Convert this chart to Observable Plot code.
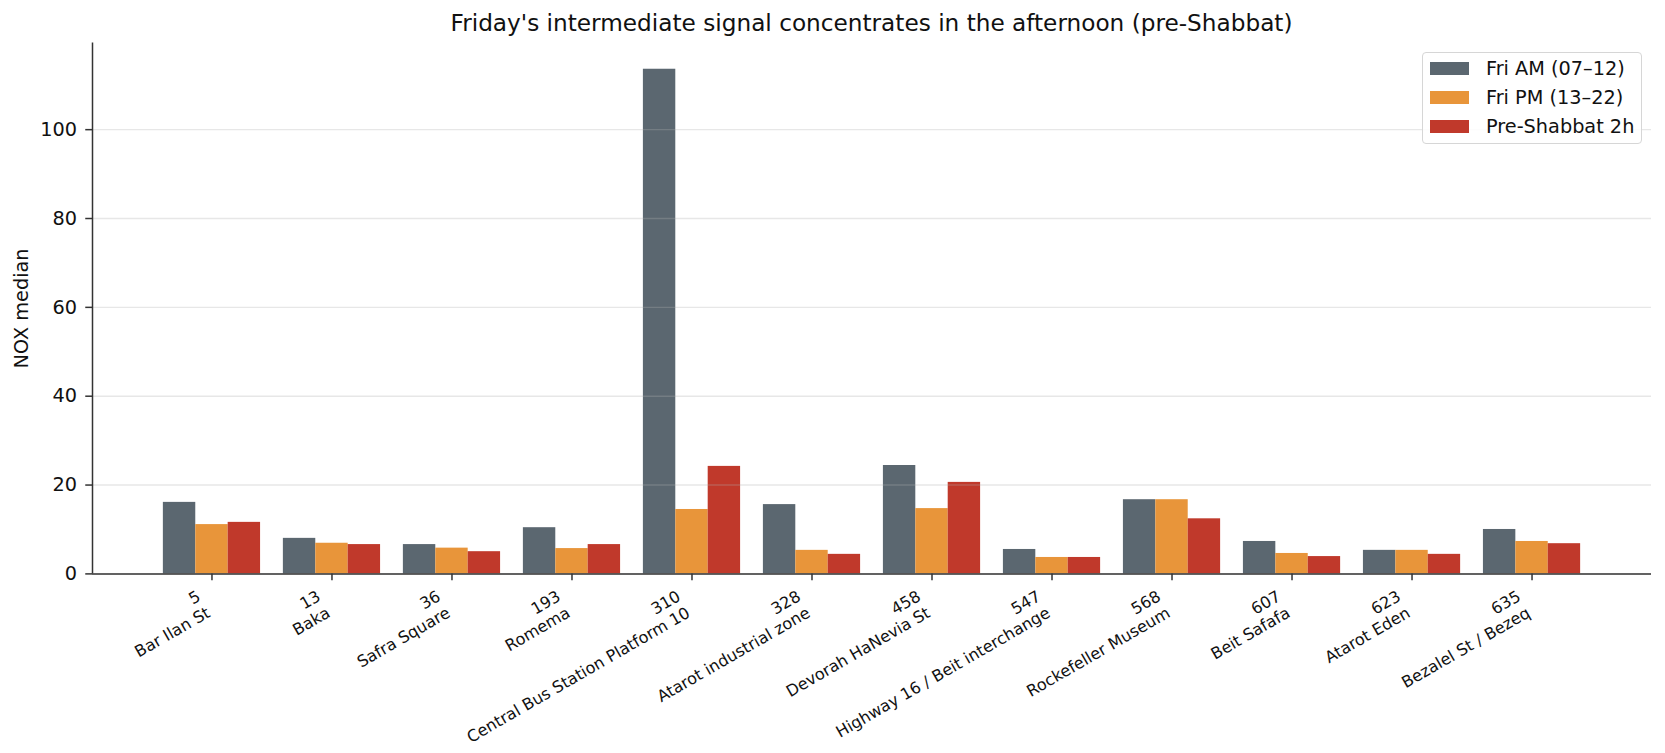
<!DOCTYPE html>
<html>
<head>
<meta charset="utf-8">
<script src="https://cdn.jsdelivr.net/npm/d3@7"></script>
<script src="https://cdn.jsdelivr.net/npm/@observablehq/plot@0.6"></script>
<style>
  body { margin: 0; background: #fff; font-family: "DejaVu Sans", sans-serif; }
  #wrap { position: relative; width: 1665px; height: 753px; }
  #title { position: absolute; left: 92px; width: 1559px; top: 9px; text-align: center;
           font-size: 23.2px; color: #111; line-height: 28px; }
  #legend { position: absolute; left: 1422px; top: 52px; width: 220px; height: 92px;
            border: 1px solid #d6d6d6; border-radius: 4px; background: rgba(255,255,255,0.85);
            box-sizing: border-box; }
  .row { position: absolute; left: 7px; height: 14px; }
  .sw { position: absolute; left: 0; top: 0; width: 39px; height: 13px; }
  .lb { position: absolute; left: 56px; top: -5px; white-space: nowrap; font-size: 19.3px;
        line-height: 23px; color: #111; }
</style>
</head>
<body>
<div id="wrap">
  <div id="chart"></div>
  <div id="title"></div>
  <div id="legend"></div>
</div>
<script>
// Monitoring stations (id + name) shown along the x axis
const stationIds = [5, 13, 36, 193, 310, 328, 458, 547, 568, 607, 623, 635];
const stationNames = [
  "Bar Ilan St", "Baka", "Safra Square", "Romema", "Central Bus Station Platform 10",
  "Atarot industrial zone", "Devorah HaNevia St", "Highway 16 / Beit interchange",
  "Rockefeller Museum", "Beit Safafa", "Atarot Eden", "Bezalel St / Bezeq"
];

// Median NOX per station for each Friday window
const seriesNames = ["Fri AM (07–12)", "Fri PM (13–22)", "Pre-Shabbat 2h"];
const friAM      = [16.1, 8.0, 6.6, 10.4, 113.6, 15.6, 24.4, 5.5, 16.7, 7.3, 5.3, 10.0];
const friPM      = [11.1, 6.9, 5.8, 5.7, 14.5, 5.3, 14.7, 3.7, 16.7, 4.6, 5.3, 7.3];
const preShabbat = [11.6, 6.6, 5.0, 6.6, 24.2, 4.4, 20.6, 3.7, 12.4, 3.9, 4.4, 6.8];

const seriesColors = ["#5b6770", "#e8953a", "#c0392b"];
const yTicks = [0, 20, 40, 60, 80, 100];
const titleText = "Friday's intermediate signal concentrates in the afternoon (pre-Shabbat)";
const yLabel = "NOX median";

// Grouped bar layout in station-index units: three bars of width 0.27 per group
const barWidth = 0.27;
const seriesValues = [friAM, friPM, preShabbat];
const rows = [];
seriesValues.forEach((vals, s) => {
  vals.forEach((v, i) => {
    const center = i + (s - 1) * barWidth;
    rows.push({series: seriesNames[s], x1: center - barWidth / 2, x2: center + barWidth / 2, value: v});
  });
});

// x extent = bar extent plus 5% margins on each side
const lo = -1 * barWidth - barWidth / 2;
const hi = (stationIds.length - 1) + barWidth + barWidth / 2;
const pad = (hi - lo) * 0.05;
const xDomain = [lo - pad, hi + pad];
const yMax = d3.max(seriesValues.flat()) * 1.052;

const idx = d3.range(stationIds.length);
const font = "DejaVu Sans";
const axisColor = "#333";

const plot = Plot.plot({
  width: 1665,
  height: 753,
  marginTop: 42.5,
  marginBottom: 179.6,
  marginLeft: 92,
  marginRight: 14,
  style: {fontFamily: font, background: "#fff", color: "#111"},
  x: {domain: xDomain, axis: null},
  y: {domain: [0, yMax], axis: null},
  color: {domain: seriesNames, range: seriesColors},
  marks: [
    Plot.rectY(rows, {x1: "x1", x2: "x2", y: "value", fill: "series"}),
    Plot.gridY(yTicks, {stroke: "#b0b0b0", strokeOpacity: 0.3, strokeWidth: 1.4}),
    Plot.axisY({
      ticks: yTicks, tickSize: 6.75, tickPadding: 8.6, fontSize: 19.3,
      stroke: axisColor, strokeWidth: 1.5, label: null
    }),
    Plot.text([yLabel], {
      frameAnchor: "left", textAnchor: "middle", dx: -71, rotate: -90, fontSize: 19.3, fill: "#111"
    }),
    Plot.axisX({ticks: idx, tickSize: 6.75, stroke: axisColor, strokeWidth: 1.5, tickFormat: () => "", label: null}),
    Plot.text(idx, {
      x: d => d, frameAnchor: "bottom", text: i => stationIds[i] + "\n" + stationNames[i],
      rotate: -30, textAnchor: "end", lineAnchor: "top", lineHeight: 1.18,
      dx: -17, dy: 14, fontSize: 16.1, fill: "#111"
    }),
    Plot.ruleY([0], {stroke: axisColor, strokeWidth: 1.5}),
    Plot.ruleX([xDomain[0]], {stroke: axisColor, strokeWidth: 1.5})
  ]
});
document.getElementById("chart").appendChild(plot);

document.getElementById("title").textContent = titleText;

const legend = d3.select("#legend");
seriesNames.forEach((name, s) => {
  const row = legend.append("div").attr("class", "row").style("top", (9 + s * 29) + "px");
  row.append("div").attr("class", "sw").style("background", seriesColors[s]);
  row.append("div").attr("class", "lb").text(name);
});
</script>
</body>
</html>
